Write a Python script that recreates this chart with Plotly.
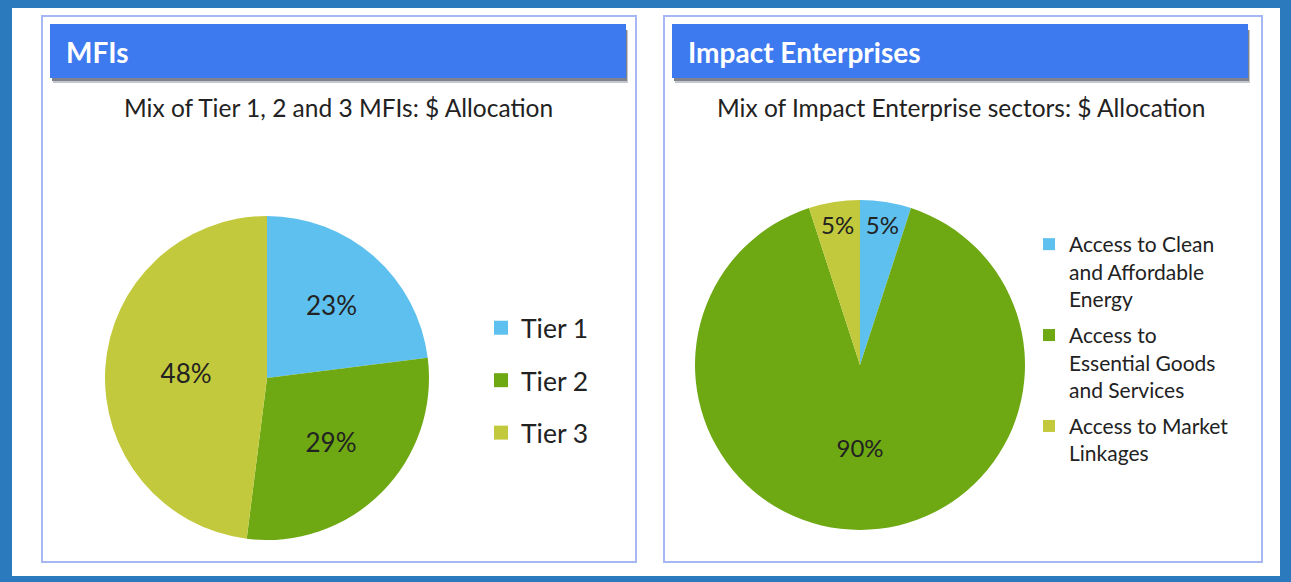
import plotly.graph_objects as go

W, H = 1291, 582

# ---- data ----
mfi_labels = ["Tier 1", "Tier 2", "Tier 3"]
mfi_values = [23, 29, 48]
ie_labels = ["Access to Clean<br>and Affordable<br>Energy",
             "Access to<br>Essential Goods<br>and Services",
             "Access to Market<br>Linkages"]
ie_values = [5, 90, 5]
colors = ["#5ec0ee", "#6ea812", "#c3c93c"]

panel_titles = ["MFIs", "Impact Enterprises"]
chart_titles = ["Mix of Tier 1, 2 and 3 MFIs: $ Allocation",
                "Mix of Impact Enterprise sectors: $ Allocation"]

FONT = "Lato, 'Open Sans', sans-serif"
TXT = "#222222"


def px(x):
    return x / W


def py(y):
    return 1 - y / H


fig = go.Figure()

fig.add_trace(go.Pie(
    labels=mfi_labels, values=mfi_values, sort=False, direction="clockwise",
    marker=dict(colors=colors, line=dict(width=0)),
    texttemplate="%{value}%", textposition="inside", insidetextorientation="horizontal",
    textfont=dict(size=26, color=TXT, family=FONT),
    domain=dict(x=[px(105), px(429)], y=[py(540), py(216)]),
    showlegend=False, hoverinfo="label+percent",
))

fig.add_trace(go.Pie(
    labels=ie_labels, values=ie_values, sort=False, direction="clockwise",
    marker=dict(colors=colors, line=dict(width=0)),
    texttemplate="%{value}%", textposition="inside", insidetextorientation="horizontal",
    textfont=dict(size=24, color=TXT, family=FONT),
    domain=dict(x=[px(695), px(1025)], y=[py(530), py(200)]),
    showlegend=False, hoverinfo="label+percent",
))

# legend entries (one per slice, same labels and colours)
for lab, col in zip(mfi_labels, colors):
    fig.add_trace(go.Scatter(x=[None], y=[None], mode="markers", name=lab,
                             marker=dict(symbol="square", size=14, color=col),
                             legend="legend", legendgroup="m" + lab, hoverinfo="skip"))
for lab, col in zip(ie_labels, colors):
    fig.add_trace(go.Scatter(x=[None], y=[None], mode="markers", name=lab,
                             marker=dict(symbol="square", size=12, color=col),
                             legend="legend2", legendgroup="i" + lab, hoverinfo="skip"))

shapes = [
    dict(type="rect", xref="paper", yref="paper", x0=px(12), x1=px(1280), y0=py(576), y1=py(8),
         fillcolor="white", line=dict(width=0), layer="below"),
]
for (x0, x1) in [(42, 636), (664, 1262)]:
    shapes.append(dict(type="rect", xref="paper", yref="paper", x0=px(x0), x1=px(x1),
                       y0=py(562), y1=py(16), fillcolor="rgba(0,0,0,0)",
                       line=dict(color="#a7b7f4", width=2), layer="below"))
for (x0, x1) in [(50, 626), (672, 1248)]:
    shapes.append(dict(type="rect", xref="paper", yref="paper", x0=px(x0 + 3), x1=px(x1 + 2),
                       y0=py(83), y1=py(30), fillcolor="#c4c7cc", line=dict(width=0), layer="below"))
    shapes.append(dict(type="rect", xref="paper", yref="paper", x0=px(x0 + 2), x1=px(x1 + 1),
                       y0=py(81), y1=py(30), fillcolor="#7d828b", line=dict(width=0), layer="below"))
    shapes.append(dict(type="rect", xref="paper", yref="paper", x0=px(x0), x1=px(x1),
                       y0=py(78), y1=py(24), fillcolor="#3d79ef", line=dict(width=0), layer="below"))

annotations = []
for i, (hx, cx) in enumerate([(64, 338), (686, 961)]):
    annotations.append(dict(text="<b>" + panel_titles[i] + "</b>", x=px(hx), y=py(52),
                            xref="paper", yref="paper", xanchor="left", yanchor="middle",
                            showarrow=False, font=dict(size=28, color="white", family=FONT)))
    annotations.append(dict(text=chart_titles[i], x=px(cx), y=py(107),
                            xref="paper", yref="paper", xanchor="center", yanchor="middle",
                            showarrow=False, font=dict(size=24.5, color=TXT, family=FONT)))

fig.update_layout(
    width=W, height=H, margin=dict(l=0, r=0, t=0, b=0),
    paper_bgcolor="#2b7abd", plot_bgcolor="rgba(0,0,0,0)",
    font=dict(family=FONT, color=TXT),
    xaxis=dict(visible=False), yaxis=dict(visible=False),
    shapes=shapes, annotations=annotations,
    legend=dict(x=px(481), y=py(304), xanchor="left", yanchor="top",
                font=dict(size=26.5, color=TXT, family=FONT), bgcolor="rgba(0,0,0,0)",
                tracegroupgap=15),
    legend2=dict(x=px(1029), y=py(224), xanchor="left", yanchor="top",
                 font=dict(size=21, color=TXT, family=FONT), bgcolor="rgba(0,0,0,0)",
                 valign="top", tracegroupgap=6),
)

fig.write_html("out.html")
